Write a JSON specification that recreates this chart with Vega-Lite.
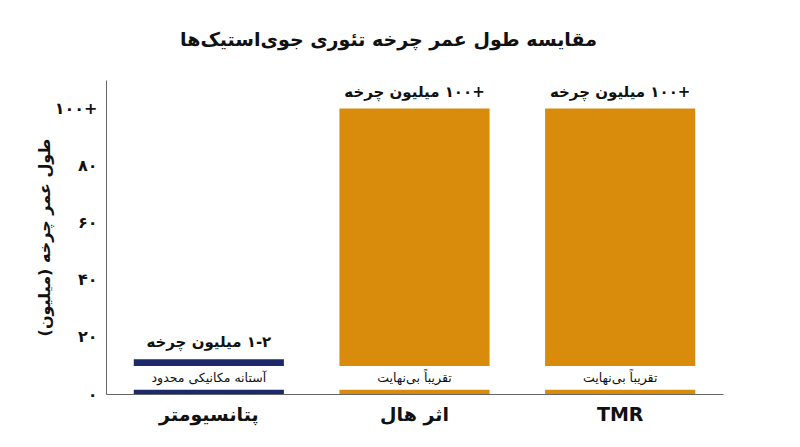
{
  "$schema": "https://vega.github.io/schema/vega-lite/v6.json",
  "autosize": "none",
  "width": 617,
  "height": 314,
  "padding": {"left": 106, "top": 80, "right": 77, "bottom": 53},
  "title": {
    "text": "مقایسه طول عمر چرخه تئوری جوی‌استیک‌ها",
    "fontSize": 19,
    "fontWeight": "bold",
    "color": "#111111",
    "anchor": "middle",
    "offset": 30,
    "dx": -26
  },
  "datasets": {
    "segments": [
      {"device": "پتانسیومتر", "kind": "mechanical", "start": 0, "end": 1.5},
      {"device": "پتانسیومتر", "kind": "mechanical", "start": 9.8, "end": 12.2},
      {"device": "اثر هال", "kind": "magnetic", "start": 0, "end": 1.5},
      {"device": "اثر هال", "kind": "magnetic", "start": 9.8, "end": 100},
      {"device": "TMR", "kind": "magnetic", "start": 0, "end": 1.5},
      {"device": "TMR", "kind": "magnetic", "start": 9.8, "end": 100}
    ],
    "labels": [
      {"device": "پتانسیومتر", "top": 12.2, "label": "‏۱-۲ میلیون چرخه", "note": "آستانه مکانیکی محدود"},
      {"device": "اثر هال", "top": 100, "label": "‏+۱۰۰ میلیون چرخه", "note": "تقریباً بی‌نهایت"},
      {"device": "TMR", "top": 100, "label": "‏+۱۰۰ میلیون چرخه", "note": "تقریباً بی‌نهایت"}
    ]
  },
  "encoding": {
    "x": {
      "field": "device",
      "type": "nominal",
      "sort": ["پتانسیومتر", "اثر هال", "TMR"],
      "scale": {"paddingInner": 0.27, "paddingOuter": 0.135},
      "axis": {
        "title": null,
        "labelAngle": 0,
        "ticks": false,
        "domainColor": "#666666",
        "labelFontSize": 19,
        "labelFontWeight": "bold",
        "labelColor": "#111111",
        "labelPadding": 11
      }
    }
  },
  "layer": [
    {
      "data": {"name": "segments"},
      "mark": {"type": "bar"},
      "encoding": {
        "y": {
          "field": "start",
          "type": "quantitative",
          "scale": {"domain": [0, 110], "nice": false},
          "axis": {
            "values": [0, 20, 40, 60, 80, 100],
            "labelExpr": "datum.value == 0 ? '۰' : datum.value == 20 ? '۲۰' : datum.value == 40 ? '۴۰' : datum.value == 60 ? '۶۰' : datum.value == 80 ? '۸۰' : '۱۰۰+'",
            "grid": false,
            "ticks": false,
            "domainColor": "#666666",
            "labelFontSize": 16,
            "labelFontWeight": "bold",
            "labelColor": "#111111",
            "labelPadding": 9,
            "title": "‏طول عمر چرخه (میلیون)‏",
            "titleFontSize": 16,
            "titleFontWeight": "bold",
            "titleColor": "#111111",
            "titlePadding": 2
          }
        },
        "y2": {"field": "end"},
        "color": {
          "field": "kind",
          "type": "nominal",
          "scale": {"domain": ["mechanical", "magnetic"], "range": ["#1c2a6c", "#d98c0b"]},
          "legend": null
        }
      }
    },
    {
      "data": {"name": "labels"},
      "mark": {"type": "text", "fontSize": 15, "fontWeight": "bold", "color": "#111111", "baseline": "middle", "dy": -17},
      "encoding": {
        "y": {"field": "top", "type": "quantitative"},
        "text": {"field": "label"}
      }
    },
    {
      "data": {"name": "labels"},
      "mark": {"type": "text", "fontSize": 12.5, "color": "#111111", "baseline": "middle"},
      "encoding": {
        "y": {"datum": 5.6, "type": "quantitative"},
        "text": {"field": "note"}
      }
    }
  ],
  "config": {
    "view": {"stroke": null},
    "font": "DejaVu Sans"
  }
}
